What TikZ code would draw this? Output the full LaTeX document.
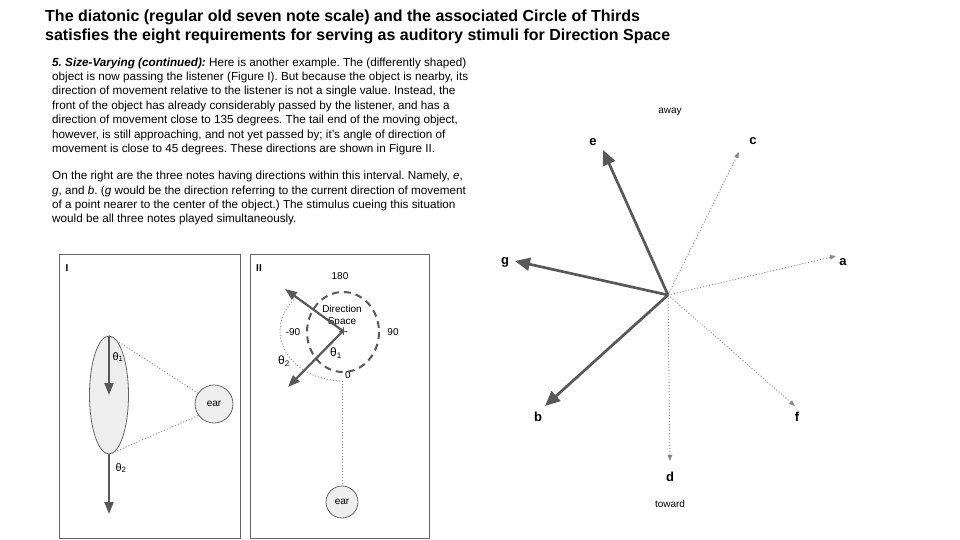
\documentclass[tikz,border=0pt]{standalone}
\usepackage{fontspec}
\setmainfont{Liberation Sans}
\usetikzlibrary{arrows.meta,shapes.geometric}
\definecolor{dk}{HTML}{595959}
\definecolor{ln}{HTML}{666666}
\definecolor{dt}{HTML}{888888}
\definecolor{fillg}{HTML}{EEEEEE}
\tikzset{
  thickarrow/.style={dk, line width=2.7pt, -{Triangle[length=15pt,width=13pt]}},
  midarrow/.style={dk, line width=2.2pt, -{Triangle[length=12pt,width=9pt]}},
  dotarrow/.style={dt, line width=0.9pt, dash pattern=on 1pt off 2pt, -{Triangle[length=6pt,width=4.5pt]}},
  dotline/.style={dt, line width=0.9pt, dash pattern=on 1pt off 2pt},
  panel/.style={draw=ln, line width=0.8pt, inner sep=0},
  bodytext/.style={anchor=north west, inner sep=0, align=left, font=\fontsize{11.7}{14.4}\selectfont},
  notelabel/.style={font=\bfseries\fontsize{13}{15}\selectfont},
  smalltext/.style={font=\fontsize{10}{12}\selectfont, inner sep=0},
  titletext/.style={anchor=base west, inner sep=0, font=\bfseries\fontsize{16}{19}\selectfont},
}
\frenchspacing
\begin{document}
\begin{tikzpicture}[x=1pt,y=-1pt]
\useasboundingbox (0,0) rectangle (960,540);
\fill[white] (0,0) rectangle (960,540);

% title
\node[titletext] (t1) at (45,22) {The diatonic (regular old seven note scale) and the associated Circle of Thirds};
\node[titletext] (t2) at (45,41) {satisfies the eight requirements for serving as auditory stimuli for Direction Space};

% body text
\node[bodytext] (p1) at (52,57.5) {\textbf{\textit{5. Size-Varying (continued):}} Here is another example. The (differently shaped)\\
object is now passing the listener (Figure I). But because the object is nearby, its\\
direction of movement relative to the listener is not a single value. Instead, the\\
front of the object has already considerably passed by the listener, and has a\\
direction of movement close to 135 degrees. The tail end of the moving object,\\
however, is still approaching, and not yet passed by; it's angle of direction of\\
movement is close to 45 degrees. These directions are shown in Figure II.};
\node[bodytext] (p2) at (52,171) {On the right are the three notes having directions within this interval. Namely, \textit{e},\\
\textit{g}, and \textit{b}. (\textit{g} would be the direction referring to the current direction of movement\\
of a point nearer to the center of the object.) The stimulus cueing this situation\\
would be all three notes played simultaneously.};

% Panel I
\node[panel, minimum width=181, minimum height=284] (box1) at (149.75,396) {};
\node[font=\bfseries\fontsize{10}{11}\selectfont, inner sep=0] (lab1) at (67,268) {I};
\node[ellipse, draw=ln, fill=fillg, line width=0.8pt, minimum width=39, minimum height=118, inner sep=0] (obj) at (109,395) {};
\node[circle, draw=ln, fill=fillg, line width=0.8pt, minimum size=38, inner sep=0, font=\fontsize{10}{12}\selectfont] (ear1) at (214,404) {ear};
\coordinate (tip2) at (109,514);
\draw[dotline] (obj.north) -- (ear1.146);
\draw[dotline] (obj.south) -- (ear1.216);
\draw[midarrow] (obj.north) -- (obj.center);
\draw[midarrow] (obj.south) -- (tip2);
\node[smalltext, font=\fontsize{11}{12}\selectfont] (th1) at (118,357) {θ\textsubscript{1}};
\node[smalltext, font=\fontsize{11}{12}\selectfont] (th2) at (121,468) {θ\textsubscript{2}};

% Panel II
\node[panel, minimum width=179, minimum height=284] (box2) at (339.5,396) {};
\node[font=\bfseries\fontsize{10}{11}\selectfont, inner sep=0] (lab2) at (259,268) {II};
\coordinate (O) at (343,331);
\node[smalltext] (n180) at (340,276) {180};
\node[smalltext] (n90) at (393,332) {90};
\node[smalltext] (nm90) at (293,332) {-90};
\node[smalltext] (n0) at (348,375) {0};
\draw[dk, line width=2pt, dash pattern=on 7pt off 5pt] (343,332) ellipse [x radius=36, y radius=40];
\draw[dotline] (O) ++(222:63 and 50) arc [start angle=222, end angle=90, x radius=63, y radius=50];
\node[circle, draw=ln, fill=fillg, line width=0.8pt, minimum size=32, inner sep=0, font=\fontsize{10}{12}\selectfont] (ear2) at (342,502) {ear};
\coordinate (vtop) at (342,381);
\draw[dotline] (vtop) -- (ear2.north);
\node[smalltext, align=center, font=\fontsize{10}{12.5}\selectfont] (ds) at (342,316) {Direction\\Space};
\coordinate (a1) at (285,289);
\coordinate (a2) at (288,387);
\draw[midarrow] (O) -- (a1);
\draw[midarrow] (O) -- (a2);
\draw[dk, line width=0.8pt] (339,331) -- (347,331) (343,327) -- (343,335);
\node[smalltext, font=\fontsize{12}{13}\selectfont] (th1b) at (336,353) {θ\textsubscript{1}};
\node[smalltext, font=\fontsize{12}{13}\selectfont] (th2b) at (284,361) {θ\textsubscript{2}};

% Right diagram
\coordinate (C) at (668,295);
\coordinate (te) at (603,150);
\coordinate (tc) at (739,152);
\coordinate (tg) at (515,261);
\coordinate (ta) at (836,256);
\coordinate (tb) at (545,406);
\coordinate (tf) at (795,406);
\coordinate (td) at (670,461);
\draw[dotarrow] (C) -- (tc);
\draw[dotarrow] (C) -- (ta);
\draw[dotarrow] (C) -- (tf);
\draw[dotarrow] (C) -- (td);
\draw[thickarrow] (C) -- (te);
\draw[thickarrow] (C) -- (tg);
\draw[thickarrow] (C) -- (tb);
\node[notelabel] (le) at (593,142) {e};
\node[notelabel] (lc) at (753,141) {c};
\node[notelabel] (lg) at (505,262) {g};
\node[notelabel] (la) at (843,262) {a};
\node[notelabel] (lb) at (538,417) {b};
\node[notelabel] (lf) at (797,417) {f};
\node[notelabel] (ld) at (670,477) {d};
\node[smalltext] (away) at (670,112) {away};
\node[smalltext] (toward) at (670,504) {toward};
\end{tikzpicture}
\end{document}
